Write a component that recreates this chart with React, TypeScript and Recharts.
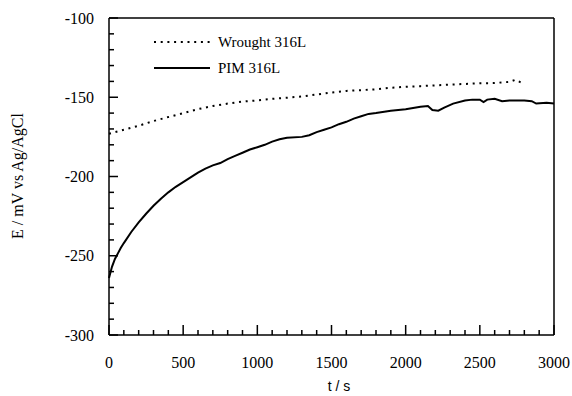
import React from 'react'
import { LineChart, Line, XAxis, YAxis, ReferenceLine } from 'recharts'

if (typeof document !== 'undefined') document.body.style.margin = '0'

// Wrought 316L (dotted)
const wroughtTime = [0, 100, 200, 300, 400, 500, 600, 700, 800, 900, 1000, 1100, 1200, 1300, 1400, 1500, 1600, 1700, 1800, 1900, 2000, 2100, 2200, 2300, 2400, 2500, 2600, 2700, 2740, 2780]
const wroughtE = [-173, -170.5, -168, -165, -162.5, -160, -157.5, -155.5, -154, -152.7, -152, -151, -150.3, -149.5, -148.3, -147, -146, -145.5, -145, -144, -143.4, -143, -142.5, -142, -141.6, -141.2, -141, -140.3, -139, -140.8]

// PIM 316L (solid)
const pimTime = [0, 20, 40, 60, 80, 100, 150, 200, 250, 300, 350, 400, 450, 500, 550, 600, 650, 700, 750, 800, 850, 900, 950, 1000, 1050, 1100, 1150, 1200, 1300, 1350, 1400, 1450, 1500, 1550, 1600, 1650, 1700, 1750, 1800, 1900, 2000, 2100, 2150, 2180, 2220, 2260, 2320, 2400, 2450, 2500, 2525, 2550, 2600, 2650, 2700, 2800, 2850, 2880, 2950, 3000]
const pimE = [-264, -257, -252, -248.5, -245, -242, -235, -229, -223.5, -218.5, -214, -210, -206.5, -203.5, -200.5, -197.5, -195, -193, -191.5, -189, -187, -185, -183, -181.5, -180, -178, -176.5, -175.5, -175, -174, -172, -170.5, -169, -167, -165.5, -163.5, -162, -160.5, -160, -158.5, -157.5, -156, -155.5, -158, -158.5, -156.5, -154, -152, -151.5, -151.5, -153, -151.5, -151, -152.5, -152, -152, -152.5, -154, -153.5, -154]

const xTicks = Array.from({ length: 31 }, (_, i) => i * 100)
const yTicks = Array.from({ length: 21 }, (_, i) => -300 + i * 10)

const wroughtData = wroughtTime.map((t, i) => ({ t, e: wroughtE[i] }))
const pimData = pimTime.map((t, i) => ({ t, e: pimE[i] }))

const serif = '"Liberation Serif", "Times New Roman", serif'
const serifText = { fontFamily: serif, fontSize: 16 }

const XTick = (props: any) => {
  const { x, y, payload } = props
  const major = payload.value % 500 === 0
  return (
    <g>
      <line x1={x} x2={x} y1={y} y2={y - (major ? 10 : 5)} stroke="#000" strokeWidth={1.5} />
      {major && (
        <text x={x} y={y + 33} textAnchor="middle" style={serifText} fill="#000">
          {payload.value}
        </text>
      )}
    </g>
  )
}

const YTick = (props: any) => {
  const { x, y, payload } = props
  const major = payload.value % 50 === 0
  return (
    <g>
      <line x1={x} x2={x + (major ? 9 : 5)} y1={y} y2={y} stroke="#000" strokeWidth={1.5} />
      {major && (
        <text x={x - 15} y={y + 5.5} textAnchor="end" style={serifText} fill="#000">
          {payload.value}
        </text>
      )}
    </g>
  )
}

export default function App() {
  return (
    <div style={{ position: 'relative', width: 572, height: 396, background: '#fff' }}>
      <LineChart width={572} height={396} margin={{ top: 18, right: 18, left: 0, bottom: 0 }}>
        <XAxis
          type="number"
          dataKey="t"
          domain={[0, 3000]}
          ticks={xTicks}
          interval={0}
          height={61}
          tickSize={0}
          tickMargin={0}
          tickLine={false}
          tick={<XTick />}
          axisLine={{ stroke: '#000', strokeWidth: 1.5 }}
        />
        <YAxis
          type="number"
          domain={[-300, -100]}
          ticks={yTicks}
          interval={0}
          width={109}
          tickSize={0}
          tickMargin={0}
          tickLine={false}
          tick={<YTick />}
          axisLine={{ stroke: '#000', strokeWidth: 1.5 }}
        />
        <ReferenceLine y={-100} stroke="#000" strokeWidth={1.5} />
        <ReferenceLine x={3000} stroke="#000" strokeWidth={1.5} />
        <Line
          data={wroughtData}
          dataKey="e"
          type="linear"
          stroke="#000"
          strokeWidth={2}
          strokeDasharray="2 4.7"
          dot={false}
          isAnimationActive={false}
        />
        <Line
          data={pimData}
          dataKey="e"
          type="linear"
          stroke="#000"
          strokeWidth={2}
          dot={false}
          isAnimationActive={false}
        />
      </LineChart>

      {/* legend */}
      <svg style={{ position: 'absolute', left: 0, top: 0 }} width={572} height={100}>
        <line x1={154} x2={210} y1={42} y2={42} stroke="#000" strokeWidth={2} strokeDasharray="2 4.7" />
        <text x={218} y={47} style={{ fontFamily: serif, fontSize: 15 }} fill="#000">Wrought 316L</text>
        <line x1={154} x2={210} y1={68} y2={68} stroke="#000" strokeWidth={2} />
        <text x={218} y={73} style={{ fontFamily: serif, fontSize: 15 }} fill="#000">PIM 316L</text>
      </svg>

      {/* axis titles */}
      <div
        style={{
          position: 'absolute',
          left: 18,
          top: 176,
          transform: 'translate(-50%, -50%) rotate(-90deg)',
          whiteSpace: 'nowrap',
          fontFamily: serif,
          fontSize: 16,
        }}
      >
        E / mV vs Ag/AgCl
      </div>
      <div
        style={{
          position: 'absolute',
          left: 339,
          top: 386,
          transform: 'translate(-50%, -50%)',
          whiteSpace: 'nowrap',
          fontFamily: '"Liberation Sans", Arial, sans-serif',
          fontSize: 14,
        }}
      >
        t / s
      </div>
    </div>
  )
}
